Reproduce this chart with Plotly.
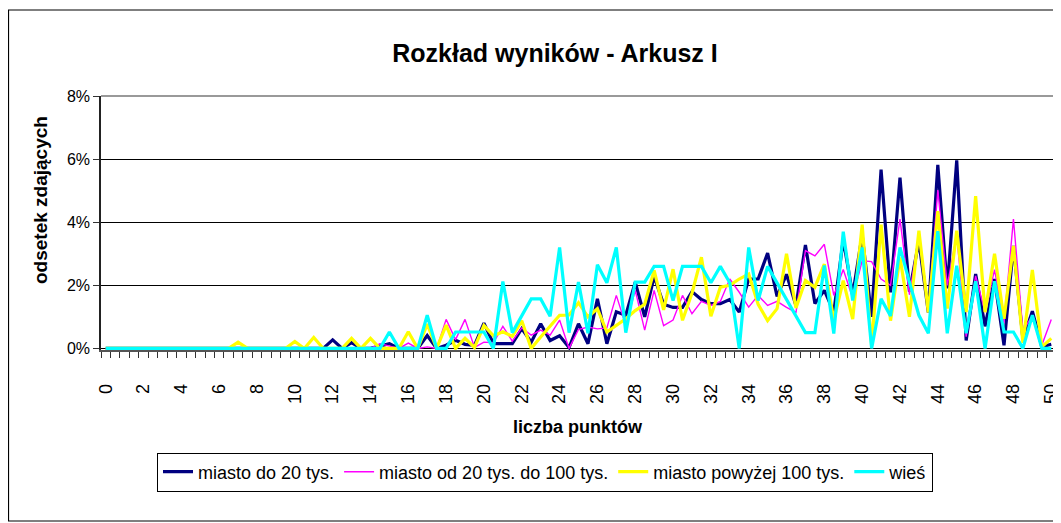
import plotly.graph_objects as go

# categories: number of points (0 to 50 in half-point steps)
punkty = [0, 0.5, 1, 1.5, 2, 2.5, 3, 3.5, 4, 4.5, 5, 5.5, 6, 6.5, 7, 7.5, 8, 8.5, 9, 9.5,
          10, 10.5, 11, 11.5, 12, 12.5, 13, 13.5, 14, 14.5, 15, 15.5, 16, 16.5, 17, 17.5, 18, 18.5, 19, 19.5,
          20, 20.5, 21, 21.5, 22, 22.5, 23, 23.5, 24, 24.5, 25, 25.5, 26, 26.5, 27, 27.5, 28, 28.5, 29, 29.5,
          30, 30.5, 31, 31.5, 32, 32.5, 33, 33.5, 34, 34.5, 35, 35.5, 36, 36.5, 37, 37.5, 38, 38.5, 39, 39.5,
          40, 40.5, 41, 41.5, 42, 42.5, 43, 43.5, 44, 44.5, 45, 45.5, 46, 46.5, 47, 47.5, 48, 48.5, 49, 49.5, 50]

# percentages of candidates
miasto_do_20 = [0, 0, 0, 0, 0, 0, 0, 0, 0, 0, 0, 0, 0, 0, 0, 0, 0, 0, 0, 0,
                0, 0, 0, 0, 0.27, 0, 0.18, 0, 0, 0.08, 0.15, 0, 0, 0, 0.41, 0, 0.1, 0.26, 0.13, 0.1,
                0.8, 0.15, 0.15, 0.15, 0.63, 0.2, 0.78, 0.25, 0.4, 0.03, 0.78, 0.15, 1.57, 0.15, 1.16, 1.05, 2.1, 1.0, 2.28, 1.4,
                1.3, 1.3, 1.8, 1.55, 1.42, 1.42, 1.55, 1.15, 2.2, 2.2, 3.02, 1.65, 2.35, 1.35, 3.28, 1.42, 1.84, 1.15, 3.45, 1.7,
                3.6, 1.0, 5.67, 1.78, 5.41, 1.8, 3.4, 1.14, 5.82, 1.9, 5.96, 0.25, 2.36, 0.7, 2.2, 0.1, 3.25, 0.3, 1.18, 0.05, 0.13]

miasto_20_100 = [0, 0, 0, 0, 0, 0, 0, 0, 0, 0, 0, 0, 0, 0, 0, 0, 0, 0, 0, 0,
                 0, 0, 0, 0, 0, 0, 0, 0, 0, 0.15, 0.08, 0, 0.17, 0, 0.05, 0, 0.92, 0.28, 0.92, 0.03,
                 0.2, 0.18, 0.7, 0.23, 0.65, 0.42, 0.58, 0.42, 0.9, 0, 0.6, 0.68, 0.62, 0.65, 1.68, 0.73, 1.84, 0.58, 1.84, 0.72,
                 0.9, 1.68, 1.1, 1.49, 1.36, 1.49, 2.2, 1.78, 1.31, 1.68, 1.36, 1.49, 1.3, 1.14, 3.1, 2.93, 3.3, 1.68, 2.5, 1.6,
                 2.78, 2.75, 2.2, 2.0, 4.1, 1.7, 3.6, 1.14, 5.02, 2.0, 3.6, 0.37, 2.3, 1.15, 2.5, 0.8, 4.1, 0.55, 1.05, 0.1, 0.92]

miasto_pow_100 = [0, 0, 0, 0, 0, 0, 0, 0, 0, 0, 0, 0, 0, 0, 0.2, 0, 0, 0, 0, 0,
                  0.22, 0, 0.35, 0, 0, 0, 0.32, 0, 0.32, 0, 0, 0, 0.53, 0, 0.77, 0, 0.74, 0, 0.32, 0.03,
                  0.73, 0.4, 0.53, 0.38, 0.88, 0, 0.36, 0.72, 1.05, 1.06, 1.45, 1.0, 1.26, 0.52, 0.73, 0.94, 1.2, 1.4, 2.47, 1.22,
                  2.51, 0.89, 1.75, 2.89, 1.02, 1.94, 2.0, 2.2, 2.36, 1.4, 0.88, 1.26, 3.0, 1.28, 2.15, 1.94, 2.67, 0.9, 2.15, 0.93,
                  3.92, 0.1, 3.92, 0.88, 2.88, 1.0, 3.73, 1.14, 4.35, 1.26, 3.73, 1.15, 4.83, 1.15, 3.0, 0.94, 3.25, 0.18, 2.49, 0.05, 0.32]

wies = [0, 0, 0, 0, 0, 0, 0, 0, 0, 0, 0, 0, 0, 0, 0, 0, 0, 0, 0, 0,
        0, 0, 0, 0, 0, 0, 0, 0, 0, 0, 0.52, 0, 0, 0, 1.05, 0, 0, 0.52, 0.52, 0.52,
        0.52, 0, 2.12, 0.5, 1.05, 1.57, 1.57, 1.02, 3.2, 0.5, 2.1, 0.48, 2.65, 2.08, 3.2, 0.5, 2.1, 2.1, 2.6, 2.6,
        1.52, 2.6, 2.6, 2.6, 2.08, 2.6, 2.08, 0, 3.2, 1.52, 2.6, 2.08, 1.56, 1.05, 0.5, 0.5, 2.63, 0.47, 3.7, 1.52,
        3.2, 0, 1.57, 1.03, 3.2, 2.1, 1.05, 0.48, 3.72, 0.48, 2.62, 0.48, 2.13, 0, 2.13, 0.52, 0.52, 0, 1.05, 0, 0]

series_names = ["miasto do 20 tys.", "miasto od 20 tys. do 100 tys.", "miasto powyżej 100 tys.", "wieś"]
x_tick_labels = [str(v) for v in range(0, 51, 2)]
y_tick_labels = ["0%", "2%", "4%", "6%", "8%"]

FONT = "Liberation Sans, Arial, sans-serif"
# the page body has an 8px default margin; the figure is sized/positioned to compensate
OFF = 8
WIN_W, WIN_H = 1061, 523
W, H = WIN_W - OFF, WIN_H - OFF
# plot area in window pixels
L, R, T, B = 101, 1056, 96, 350


def px_x(p):
    return (p - L) / (R - L)


def px_y(p):
    return (B - p) / (B - T)


fig = go.Figure()
styles = [("#000080", 3.2), ("#FF00FF", 1.4), ("#FFFF00", 3.2), ("#00FFFF", 3.2)]
for name, ys, (col, w) in zip(series_names, [miasto_do_20, miasto_20_100, miasto_pow_100, wies], styles):
    fig.add_trace(go.Scatter(x=punkty, y=ys, mode="lines", name=name,
                             line=dict(color=col, width=w)))

fig.update_layout(
    width=W, height=H,
    margin=dict(l=L - OFF, r=WIN_W - R, t=T - OFF, b=WIN_H - B, autoexpand=False),
    paper_bgcolor="white", plot_bgcolor="white",
    font=dict(family=FONT, color="black", size=16),
    title=dict(text="<b>Rozkład wyników - Arkusz I</b>", x=(555 - OFF) / W, xanchor="center",
               y=1 - (53 - OFF) / H, yanchor="middle", yref="container",
               font=dict(family=FONT, size=25, color="black")),
    showlegend=True,
    legend=dict(orientation="h", xref="container", yref="container",
                x=(545 - OFF) / W, y=1 - (472 - OFF) / H, xanchor="center", yanchor="middle",
                bordercolor="black", borderwidth=1, bgcolor="white",
                font=dict(family=FONT, size=18, color="black"),
                itemwidth=30, tracegroupgap=0),
)

fig.update_xaxes(
    range=[-0.25, 50.25], automargin=False, ticklabeloverflow="allow",
    tickmode="array", tickvals=list(range(0, 51, 2)), ticktext=x_tick_labels,
    tickangle=-90, ticks="outside", ticklen=25, tickcolor="rgba(0,0,0,0)",
    tickfont=dict(family=FONT, size=18, color="black"),
    minor=dict(ticks="outside", ticklen=6, tick0=0.25, dtick=0.5, tickcolor="#333333", tickwidth=1, showgrid=False),
    showgrid=False, zeroline=False,
    showline=True, linecolor="#555555", linewidth=1.5,
)

fig.update_yaxes(
    range=[-0.05, 8], automargin=False,
    tickmode="array", tickvals=[0, 2, 4, 6, 8], ticktext=y_tick_labels,
    ticks="outside", ticklen=6, tickcolor="#333333",
    tickfont=dict(family=FONT, size=16, color="black"),
    showgrid=True, gridcolor="black", gridwidth=1,
    zeroline=False, showline=True, linecolor="#222222", linewidth=1.5,
)

# plot-area border (top & right, grey)
fig.add_shape(type="line", xref="paper", yref="paper", x0=0, x1=1, y0=1, y1=1,
              line=dict(color="#999999", width=2), layer="above")
fig.add_shape(type="line", xref="paper", yref="paper", x0=1, x1=1, y0=0, y1=1,
              line=dict(color="#999999", width=2), layer="above")
# chart-area border
fig.add_shape(type="rect", xref="paper", yref="paper",
              x0=px_x(8.5), x1=px_x(1059.5), y0=px_y(10), y1=px_y(521),
              line=dict(color="black", width=1.2), layer="below")

# axis titles
fig.add_annotation(text="<b>liczba punktów</b>", xref="paper", yref="paper",
                   x=px_x(578), y=px_y(427), xanchor="center", yanchor="middle",
                   showarrow=False, font=dict(family=FONT, size=18, color="black"))
fig.add_annotation(text="<b>odsetek zdających</b>", xref="paper", yref="paper",
                   x=px_x(40), y=px_y(200), xanchor="center", yanchor="middle",
                   textangle=-90, showarrow=False, font=dict(family=FONT, size=19, color="black"))

fig.write_html("out.html")
